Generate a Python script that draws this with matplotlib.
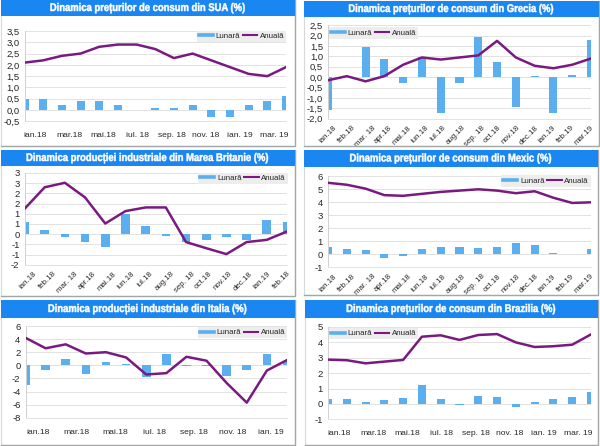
import numpy as np
import matplotlib
matplotlib.use("Agg")
import matplotlib.pyplot as plt
from matplotlib.lines import Line2D
from matplotlib.patches import Rectangle
from matplotlib.patheffects import AbstractPathEffect
from matplotlib.transforms import Affine2D

W, H = 600, 446
BLUE = "#1A86F2"
BAR = "#5BAFEF"
LINE = "#7A1A80"
GRID = "#E2E2E2"
TXT = "#262626"
plt.rcParams["font.family"] = ["Liberation Sans", "DejaVu Sans"]

months_full = ["ian.18", "feb.18", "mar. 18", "apr.18", "mai.18", "iun.18", "iul.18", "aug.18",
               "sep. 18", "oct.18", "nov.18", "dec.18", "ian.19", "feb.19", "mar.19"]

# --- data ---
sua_bar = [.5, .5, .2, .4, .4, .2, 0, .1, .1, .2, -.3, -.3, .2, .4, .6]
sua_line = [2.1, 2.2, 2.4, 2.5, 2.8, 2.9, 2.9, 2.7, 2.3, 2.5, 2.2, 1.9, 1.6, 1.5, 1.9]
sua_labels = ["ian.18", "mar.18", "mai.18", "iul. 18", "sep. 18", "nov. 18", "ian. 19", "mar. 19"]
sua_ticks = ["3,5", "3,0", "2,5", "2,0", "1,5", "1,0", "0,5", "0,0", "-0,5"]

gr_bar = [-1.6, 0, 1.45, .9, -.3, .95, -1.72, -.3, 1.95, .75, -1.45, .08, -1.72, .12, 1.8]
gr_line = [-.15, .05, -.2, .05, .6, .95, .85, .95, 1.05, 1.75, .95, .55, .43, .6, .9]
gr_ticks = ["2,5", "2,0", "1,5", "1,0", "0,5", "0,0", "-0,5", "-1,0", "-1,5", "-2,0"]

uk_bar = [.59, .21, -.16, -.38, -.65, 1.0, .39, -.08, -.38, -.28, -.16, -.28, .7, .59]
uk_line = [1.24, 2.3, 2.52, 1.8, .52, 1.13, 1.31, 1.31, -.39, -.69, -.98, -.39, -.28, .13]
uk_labels = months_full[:14]
uk_labels[-2:] = ["ian.19", "feb.18"]
uk_ticks = ["3", "3", "2", "2", "1", "1", "0", "-1", "-1", "-2"]

mx_bar = [.55, .4, .35, -.3, -.1, .4, .55, .6, .45, .55, .85, .7, .1, .02, .4]
mx_line = [5.5, 5.35, 5.05, 4.55, 4.5, 4.65, 4.8, 4.9, 5.0, 4.9, 4.7, 4.85, 4.35, 3.95, 4.0]
mx_ticks = ["6", "5", "4", "3", "2", "1", "0", "-1"]

it_bar = [-3, -.7, 1.0, -1.3, .55, .15, -1.85, 1.8, -.15, -.1, -1.6, -.7, 1.8, .7]
it_line = [4.2, 2.6, 3.2, 1.8, 2.0, 1.2, -1.4, -1.2, 1.3, .7, -2.7, -5.7, -.8, .8]
it_labels = ["ian.18", "mar.18", "mai.18", "iul. 18", "sep. 18", "nov. 18", "ian. 19"]
it_ticks = ["6", "4", "2", "0", "-2", "-4", "-6", "-8"]

br_bar = [.3, .35, .1, .25, .4, 1.25, .35, -.05, .5, .45, -.2, .15, .35, .45, .75]
br_line = [2.88, 2.84, 2.64, 2.75, 2.86, 4.37, 4.46, 4.16, 4.48, 4.54, 4.0, 3.7, 3.75, 3.85, 4.52]
br_ticks = ["5", "4", "3", "2", "1", "0", "-1"]

panels = [
    dict(title="Dinamica prețurilor de consum din SUA (%)", bars=sua_bar, line=sua_line,
         labels=sua_labels, ticks=sua_ticks, ylim=(-.5, 3.5), box=(24.5, 31, 286, 121.3),
         frame=(1, 0, 295, 146), tbar=16, lab=(.59, 13.37), rot=0, leg=(197, 32, 286, 41)),
    dict(title="Dinamica prețurilor de consum din Grecia (%)", bars=gr_bar, line=gr_line,
         labels=months_full, ticks=gr_ticks, ylim=(-2, 2.5), box=(328, 25.3, 591, 118.7),
         frame=(304, 1, 599, 146), tbar=17, lab=(.03, 13.6), rot=45, leg=(329, 29, 418, 37)),
    dict(title="Dinamica producției industriale din Marea Britanie (%)", bars=uk_bar, line=uk_line,
         labels=uk_labels, ticks=uk_ticks, ylim=(-1.5, 3), box=(24.5, 173, 287, 264.7),
         frame=(1, 150, 295, 296), tbar=166, lab=(.2, 12.73), rot=45, leg=(199, 174, 287, 183)),
    dict(title="Dinamica prețurilor de consum din Mexic (%)", bars=mx_bar, line=mx_line,
         labels=months_full, ticks=mx_ticks, ylim=(-1, 6), box=(328, 176.3, 591, 267.3),
         frame=(304, 150, 598, 295), tbar=167, lab=(.03, 13.6), rot=45, leg=(502, 176, 590, 186)),
    dict(title="Dinamica producției industriale din Italia (%)", bars=it_bar, line=it_line,
         labels=it_labels, ticks=it_ticks, ylim=(-8, 6), box=(25.5, 326, 287, 417.7),
         frame=(1, 300, 295, 445), tbar=318, lab=(.61, 12.22), rot=0, leg=(198, 328, 287, 337)),
    dict(title="Dinamica prețurilor de consum din Brazilia (%)", bars=br_bar, line=br_line,
         labels=sua_labels, ticks=br_ticks, ylim=(-1, 5), box=(328, 327, 591, 419.3),
         frame=(305, 300, 598, 445), tbar=318, lab=(.59, 13.32), rot=0, leg=(329, 329, 418, 338)),
]


class Narrow(AbstractPathEffect):
    """Draws a text condensed horizontally about its centre, slightly emboldened."""

    def __init__(self, cx, sx, stroke):
        super().__init__()
        self.cx, self.sx, self.stroke = cx, sx, stroke

    def draw_path(self, renderer, gc, tpath, affine, rgbFace=None):
        squeeze = Affine2D().translate(-self.cx, 0).scale(self.sx, 1).translate(self.cx, 0)
        gc0 = renderer.new_gc()
        gc0.copy_properties(gc)
        gc0.set_linewidth(self.stroke)
        gc0.set_foreground(rgbFace)
        renderer.draw_path(gc0, tpath, affine + squeeze, rgbFace)
        gc0.restore()


fig = plt.figure(figsize=(W / 100, H / 100), dpi=100, facecolor="white")


def fx(x):
    return x / W


def fy(y):
    return 1 - y / H


for p in panels:
    x0, y0, x1, y1 = p["frame"]
    fig.add_artist(Rectangle((fx(x0), fy(y1)), (x1 - x0) / W, (y1 - y0) / H, transform=fig.transFigure,
                             fc="white", ec="#D8D8D8", lw=.8, zorder=0))
    fig.add_artist(Line2D([fx(x0), fx(x1), fx(x1)], [fy(y1), fy(y1), fy(y0)], transform=fig.transFigure,
                          color="#A6A6A6", lw=1.0, zorder=0.5))
    fig.add_artist(Rectangle((fx(x0), fy(p["tbar"])), (x1 - x0) / W, (p["tbar"] - y0) / H,
                             transform=fig.transFigure, fc=BLUE, ec="none", zorder=1))
    cx = (x0 + x1) / 2
    fig.text(fx(cx), fy((y0 + p["tbar"]) / 2), p["title"], color="white", ha="center",
             va="center", fontsize=8, fontweight="bold", zorder=2,
             path_effects=[Narrow(cx, .85, .35)])

    l, t, r, b = p["box"]
    ax = fig.add_axes([fx(l), fy(b), (r - l) / W, (b - t) / H])
    ax.patch.set_alpha(0)
    n = len(p["bars"])
    xs = np.arange(n)
    ax.bar(xs, p["bars"], width=.43, color=BAR, zorder=2)
    ax.plot(xs, p["line"], color=LINE, lw=1.8, zorder=3, solid_joinstyle="round")
    ax.set_xlim(0, n - 1)
    ax.set_ylim(*p["ylim"])
    yt = np.linspace(p["ylim"][1], p["ylim"][0], len(p["ticks"]))
    ax.set_yticks(yt, p["ticks"])
    ax.grid(axis="y", color=GRID, lw=.7, zorder=0)
    ax.axhline(0, color="#C8C8C8", lw=.7, zorder=1)
    for s in ("top", "right"):
        ax.spines[s].set_visible(False)
    ax.spines["left"].set_color("#D0D0D0")
    ax.spines["bottom"].set_color(GRID)
    ax.spines["left"].set_linewidth(.7)
    ax.spines["bottom"].set_linewidth(.7)
    ax.tick_params(axis="y", length=0, labelsize=6.8, labelcolor=TXT, pad=3.6)
    lp = np.linspace(p["lab"][0], p["lab"][1], len(p["labels"]))
    ax.set_xticks(lp, p["labels"])
    if p["rot"]:
        ax.tick_params(axis="x", length=0, labelsize=5.7, labelcolor=TXT, pad=4, labelrotation=45)
    else:
        ax.tick_params(axis="x", length=0, labelsize=6.1, labelcolor=TXT, pad=8)

    lx0, ly0, lx1, ly1 = p["leg"]
    handles = [Line2D([], [], color=BAR, lw=2.6), Line2D([], [], color=LINE, lw=1.5)]
    leg = ax.legend(handles, ["Lunară", "Anuală"], ncol=2, loc="center",
                    bbox_to_anchor=(fx((lx0 + lx1) / 2), fy((ly0 + ly1) / 2)),
                    bbox_transform=fig.transFigure, fontsize=5.7, frameon=True, fancybox=False,
                    facecolor="#EDEDED", edgecolor="none", framealpha=1, borderpad=.25,
                    handlelength=1.8, handletextpad=.35, columnspacing=.35, borderaxespad=0)
    leg.set_zorder(5)
    for tx in leg.get_texts():
        tx.set_color(TXT)

fig.savefig("out.png", dpi=100)
